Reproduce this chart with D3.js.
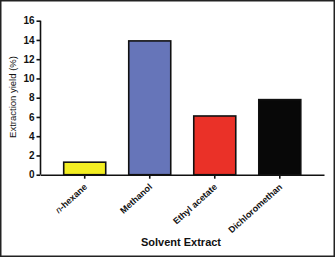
<!DOCTYPE html>
<html>
<head>
<meta charset="utf-8">
<script src="https://cdn.jsdelivr.net/npm/d3@7"></script>
<style>
  body { margin: 0; background: #fff; }
  svg { display: block; font-family: "Liberation Sans", Arial, sans-serif; }
</style>
</head>
<body>
<svg id="chart" width="335" height="257"></svg>
<script>
// data
const solvents = ["n-hexane", "Methanol", "Ethyl acetate", "Dichloromethan"];
const yields = [1.3, 13.9, 6.1, 7.8];
const barColors = ["#f3ee22", "#6675b9", "#ea3128", "#080808"];
const yTicks = [0, 2, 4, 6, 8, 10, 12, 14, 16];

const svg = d3.select("#chart");
const W = 335, H = 257;

// outer frame
svg.append("rect")
  .attr("x", 0.75).attr("y", 0.75)
  .attr("width", W - 1.5).attr("height", H - 1.5)
  .attr("fill", "none")
  .attr("stroke", "#222")
  .attr("stroke-width", 1.5);

const x0 = 40.5, x1 = 324, yTop = 20.7, yBot = 174.7;

const x = d3.scaleBand()
  .domain(solvents)
  .range([x0, x1])
  .paddingInner(0.354)
  .paddingOuter(0.357);

const y = d3.scaleLinear().domain([0, 16]).range([yBot, yTop]);

// bars
svg.append("g")
  .selectAll("rect")
  .data(solvents)
  .enter().append("rect")
  .attr("x", d => x(d))
  .attr("y", (d, i) => y(yields[i]))
  .attr("width", x.bandwidth())
  .attr("height", (d, i) => y(0) - y(yields[i]))
  .attr("fill", (d, i) => barColors[i])
  .attr("stroke", "#111")
  .attr("stroke-width", 1.6);

// y axis
const yAxis = svg.append("g")
  .attr("transform", `translate(${x0},0)`)
  .call(d3.axisLeft(y).tickValues(yTicks).tickSize(4).tickPadding(2));
yAxis.select(".domain").attr("stroke", "#111").attr("stroke-width", 1.6)
  .attr("d", `M0,${yTop}V${yBot}`);
yAxis.selectAll(".tick line").attr("stroke", "#111").attr("stroke-width", 1.6);
yAxis.selectAll(".tick text")
  .attr("font-size", "10px")
  .attr("font-weight", "bold")
  .attr("fill", "#111");

// x axis
const xAxis = svg.append("g")
  .attr("transform", `translate(0,${yBot})`)
  .call(d3.axisBottom(x).tickSize(4).tickSizeOuter(0));
xAxis.select(".domain").attr("stroke", "#111").attr("stroke-width", 1.6);
xAxis.selectAll(".tick line").attr("stroke", "#111").attr("stroke-width", 1.6);
xAxis.selectAll(".tick text").remove();

xAxis.selectAll(".tick")
  .append("text")
  .attr("transform", "translate(3,13) rotate(-42)")
  .attr("text-anchor", "end")
  .attr("font-size", "9px")
  .attr("font-weight", "bold")
  .attr("fill", "#111")
  .each(function(d) {
    const t = d3.select(this);
    if (d === "n-hexane") {
      t.append("tspan").attr("font-style", "italic").attr("font-weight", "normal").text("n");
      t.append("tspan").text("-hexane");
    } else {
      t.text(d);
    }
  });

// axis titles
svg.append("text")
  .attr("transform", "rotate(-90)")
  .attr("x", -97)
  .attr("y", 16)
  .attr("text-anchor", "middle")
  .attr("font-size", "9.5px")
  .attr("fill", "#111")
  .text("Extraction yield (%)");

svg.append("text")
  .attr("x", 181)
  .attr("y", 246)
  .attr("text-anchor", "middle")
  .attr("font-size", "11px")
  .attr("font-weight", "bold")
  .attr("fill", "#111")
  .text("Solvent Extract");
</script>
</body>
</html>
